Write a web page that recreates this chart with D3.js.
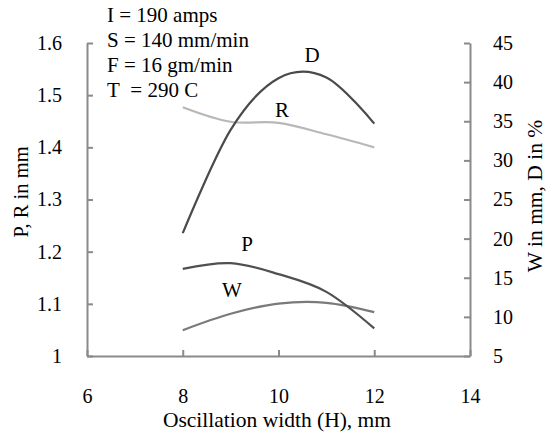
<!DOCTYPE html>
<html>
<head>
<meta charset="utf-8">
<script src="https://cdn.jsdelivr.net/npm/d3@7"></script>
<style>
  body { margin: 0; background: #fff; }
  svg { display: block; }
  text { font-family: "Liberation Serif", "Times New Roman", serif; fill: #000; }
</style>
</head>
<body>
<svg id="chart" width="547" height="436"></svg>
<script>
// 横軸 (Oscillation width)
var widths = [8, 9, 10, 11, 12];

// 左軸 (mm)
var pValues = [1.167, 1.178, 1.157, 1.123, 1.053];
var rValues = [1.477, 1.449, 1.447, 1.425, 1.400];

// 右軸 (W in mm, D in %)
var wValues = [8.3, 10.4, 11.7, 11.8, 10.6];
var dValues = [20.7, 33.9, 40.5, 40.6, 34.7];

var xTickValues = [6, 8, 10, 12, 14];
var leftTickValues = [1, 1.1, 1.2, 1.3, 1.4, 1.5, 1.6];
var leftTickLabels = ['1', '1.1', '1.2', '1.3', '1.4', '1.5', '1.6'];
var rightTickValues = [5, 10, 15, 20, 25, 30, 35, 40, 45];

var notes = ['I = 190 amps', 'S = 140 mm/min', 'F = 16 gm/min', 'T\u00a0 = 290 C'];

var svg = d3.select('#chart');

var margin = { top: 43, right: 77, bottom: 80, left: 87 };
var width = 547, height = 436;

var x = d3.scaleLinear().domain([6, 14]).range([margin.left, width - margin.right]);
var yL = d3.scaleLinear().domain([1, 1.6]).range([height - margin.bottom, margin.top]);
var yR = d3.scaleLinear().domain([5, 45]).range([height - margin.bottom, margin.top]);

var axisColor = '#8a8a8a';

// 軸
var gx = svg.append('g')
  .attr('transform', 'translate(0,' + (height - margin.bottom) + ')')
  .call(d3.axisBottom(x).tickValues(xTickValues).tickSize(-6).tickSizeOuter(0).tickPadding(33));

var gl = svg.append('g')
  .attr('transform', 'translate(' + margin.left + ',0)')
  .call(d3.axisLeft(yL).tickValues(leftTickValues).tickSize(-6).tickSizeOuter(0).tickPadding(25)
    .tickFormat(function(d, i) { return leftTickLabels[i]; }));

var gr = svg.append('g')
  .attr('transform', 'translate(' + (width - margin.right) + ',0)')
  .call(d3.axisRight(yR).tickValues(rightTickValues).tickSize(-6).tickSizeOuter(0).tickPadding(23));

[gx, gl, gr].forEach(function(g) {
  g.selectAll('.domain').attr('stroke', axisColor).attr('stroke-width', 2);
  g.selectAll('.tick line').attr('stroke', axisColor).attr('stroke-width', 2);
  g.selectAll('.tick text').attr('font-size', 20).attr('font-family', '"Liberation Serif", serif').attr('fill', '#000');
});

// 線
var lineL = d3.line()
  .x(function(d, i) { return x(widths[i]); })
  .y(function(d) { return yL(d); })
  .curve(d3.curveCatmullRom.alpha(0));

var lineR = d3.line()
  .x(function(d, i) { return x(widths[i]); })
  .y(function(d) { return yR(d); })
  .curve(d3.curveCatmullRom.alpha(0));

var series = [
  { values: rValues, line: lineL, color: '#b8b8b8' },
  { values: wValues, line: lineR, color: '#7a7a7a' },
  { values: pValues, line: lineL, color: '#505050' },
  { values: dValues, line: lineR, color: '#4a4a4a' }
];

svg.append('g').selectAll('path')
  .data(series)
  .enter()
  .append('path')
  .attr('d', function(d) { return d.line(d.values); })
  .attr('fill', 'none')
  .attr('stroke', function(d) { return d.color; })
  .attr('stroke-width', 2.2);

// 系列ラベル
var labels = [
  { text: 'D', x: 312, y: 62 },
  { text: 'R', x: 282, y: 117 },
  { text: 'P', x: 247, y: 251 },
  { text: 'W', x: 232, y: 297 }
];
svg.append('g').selectAll('text')
  .data(labels)
  .enter()
  .append('text')
  .attr('x', function(d) { return d.x; })
  .attr('y', function(d) { return d.y; })
  .attr('text-anchor', 'middle')
  .attr('font-size', 21)
  .text(function(d) { return d.text; });

// 条件
svg.append('g').selectAll('text')
  .data(notes)
  .enter()
  .append('text')
  .attr('x', 107)
  .attr('y', function(d, i) { return 22 + i * 25; })
  .attr('font-size', 21)
  .attr('xml:space', 'preserve')
  .text(function(d) { return d; });

// 軸タイトル
svg.append('text')
  .attr('x', 277)
  .attr('y', 427)
  .attr('text-anchor', 'middle')
  .attr('font-size', 21.5)
  .text('Oscillation width (H), mm');

svg.append('text')
  .attr('transform', 'translate(28,192) rotate(-90)')
  .attr('text-anchor', 'middle')
  .attr('font-size', 20.5)
  .text('P, R in mm');

svg.append('text')
  .attr('transform', 'translate(542,196) rotate(-90)')
  .attr('text-anchor', 'middle')
  .attr('font-size', 21.5)
  .text('W in mm, D in %');
</script>
</body>
</html>
